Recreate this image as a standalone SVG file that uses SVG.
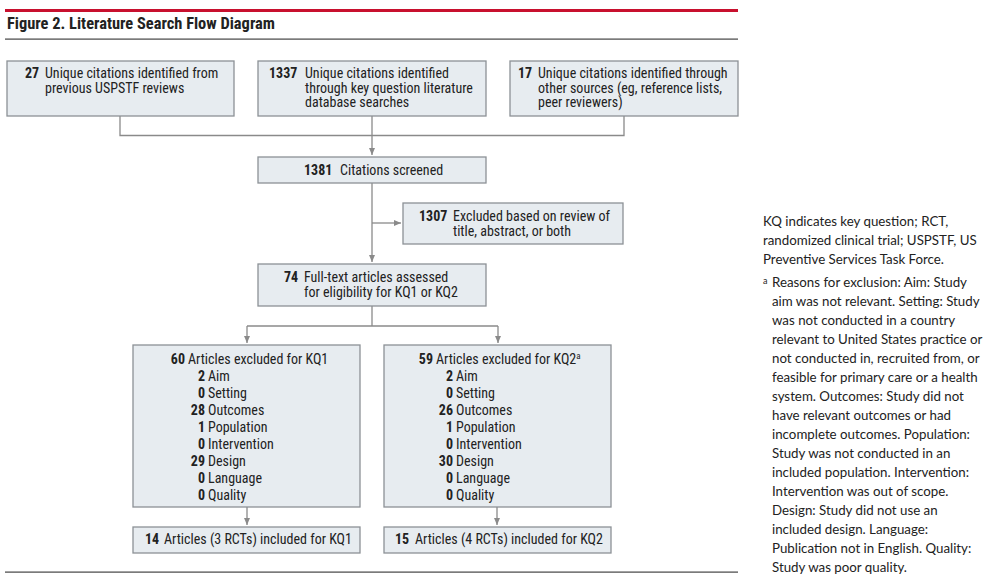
<svg xmlns="http://www.w3.org/2000/svg" width="1003" height="582" viewBox="0 0 1003 582">
<style>
.box{fill:#e7ecf0;stroke:#8c9196;stroke-width:1.3}
.t{font-family:"Liberation Sans Narrow","Roboto Condensed","Liberation Sans",sans-serif;font-size:14px;fill:#222}
.b{font-weight:bold}
.e{text-anchor:end}
.c{fill:none;stroke:#8a8a8a;stroke-width:1.3}
.n{font-family:Lato,"Open Sans",sans-serif;font-size:13.3px;fill:#222}
</style>
<defs>
<marker id="ah" markerWidth="8" markerHeight="8" refX="7" refY="4" orient="auto" markerUnits="userSpaceOnUse">
<path d="M0,1 L7,4 L0,7 z" fill="#8a8a8a"/>
</marker>
</defs>
<rect x="5" y="9" width="733" height="3" fill="#c8102e"/>
<text class="t" x="7" y="29" style="font-size:16px;font-weight:bold" textLength="268" lengthAdjust="spacingAndGlyphs">Figure 2. Literature Search Flow Diagram</text>
<rect x="5" y="38.5" width="733" height="1.2" fill="#444"/>
<rect x="5" y="571.5" width="733" height="1.2" fill="#444"/>

<g id="connectors">
<path class="c" d="M120,116 V135.5 H624 V116"/>
<path class="c" d="M372,116 V155" marker-end="url(#ah)"/>
<path class="c" d="M372,183 V262" marker-end="url(#ah)"/>
<path class="c" d="M372,223 H401" marker-end="url(#ah)"/>
<path class="c" d="M372,306 V326"/>
<path class="c" d="M247,326 H498"/>
<path class="c" d="M247,326 V343" marker-end="url(#ah)"/>
<path class="c" d="M498,326 V343" marker-end="url(#ah)"/>
<path class="c" d="M247,507 V525" marker-end="url(#ah)"/>
<path class="c" d="M497,507 V525" marker-end="url(#ah)"/>
</g>

<g id="n27">
<rect class="box" x="7" y="61" width="227" height="55"/>
<text class="t b" x="25" y="78">27</text>
<text class="t" x="45" y="78">Unique citations identified from</text>
<text class="t" x="45" y="93">previous USPSTF reviews</text>
</g>
<g id="n1337">
<rect class="box" x="258" y="61" width="228" height="55"/>
<text class="t b" x="269" y="78">1337</text>
<text class="t" x="305" y="78">Unique citations identified</text>
<text class="t" x="305" y="93">through key question literature</text>
<text class="t" x="305" y="107">database searches</text>
</g>
<g id="n17">
<rect class="box" x="510" y="61" width="228" height="55"/>
<text class="t b" x="518" y="78">17</text>
<text class="t" x="538" y="78">Unique citations identified through</text>
<text class="t" x="538" y="93">other sources (eg, reference lists,</text>
<text class="t" x="538" y="107">peer reviewers)</text>
</g>
<g id="n1381">
<rect class="box" x="258" y="157" width="228" height="26"/>
<text class="t b" x="304" y="175">1381</text>
<text class="t" x="340" y="175">Citations screened</text>
</g>
<g id="n1307">
<rect class="box" x="403" y="203" width="220" height="41"/>
<text class="t b" x="419" y="221">1307</text>
<text class="t" x="453" y="221">Excluded based on review of</text>
<text class="t" x="453" y="236">title, abstract, or both</text>
</g>
<g id="n74">
<rect class="box" x="258" y="264" width="228" height="42"/>
<text class="t b" x="284" y="282">74</text>
<text class="t" x="304" y="282">Full-text articles assessed</text>
<text class="t" x="304" y="297">for eligibility for KQ1 or KQ2</text>
</g>
<g id="kq1">
<rect class="box" x="133" y="345" width="227" height="162"/>
<text class="t b e" x="185" y="364">60</text><text class="t" x="188" y="364">Articles excluded for KQ1</text>
<text class="t b e" x="205" y="381">2</text><text class="t" x="208" y="381">Aim</text>
<text class="t b e" x="205" y="398">0</text><text class="t" x="208" y="398">Setting</text>
<text class="t b e" x="205" y="415">28</text><text class="t" x="208" y="415">Outcomes</text>
<text class="t b e" x="205" y="432">1</text><text class="t" x="208" y="432">Population</text>
<text class="t b e" x="205" y="449">0</text><text class="t" x="208" y="449">Intervention</text>
<text class="t b e" x="205" y="466">29</text><text class="t" x="208" y="466">Design</text>
<text class="t b e" x="205" y="483">0</text><text class="t" x="208" y="483">Language</text>
<text class="t b e" x="205" y="500">0</text><text class="t" x="208" y="500">Quality</text>
</g>
<g id="kq2">
<rect class="box" x="384" y="345" width="227" height="162"/>
<text class="t b e" x="433" y="364">59</text><text class="t" x="436" y="364">Articles excluded for KQ2<tspan dy="-5" style="font-size:9px">a</tspan></text>
<text class="t b e" x="453" y="381">2</text><text class="t" x="456" y="381">Aim</text>
<text class="t b e" x="453" y="398">0</text><text class="t" x="456" y="398">Setting</text>
<text class="t b e" x="453" y="415">26</text><text class="t" x="456" y="415">Outcomes</text>
<text class="t b e" x="453" y="432">1</text><text class="t" x="456" y="432">Population</text>
<text class="t b e" x="453" y="449">0</text><text class="t" x="456" y="449">Intervention</text>
<text class="t b e" x="453" y="466">30</text><text class="t" x="456" y="466">Design</text>
<text class="t b e" x="453" y="483">0</text><text class="t" x="456" y="483">Language</text>
<text class="t b e" x="453" y="500">0</text><text class="t" x="456" y="500">Quality</text>
</g>
<g id="inc1">
<rect class="box" x="133" y="527" width="227" height="26"/>
<text class="t b" x="145" y="544">14</text>
<text class="t" x="164" y="544">Articles (3 RCTs) included for KQ1</text>
</g>
<g id="inc2">
<rect class="box" x="384" y="527" width="227" height="26"/>
<text class="t b" x="395" y="544">15</text>
<text class="t" x="415" y="544">Articles (4 RCTs) included for KQ2</text>
</g>

<g id="notes">
<text class="n" x="763" y="226">KQ indicates key question; RCT,</text>
<text class="n" x="763" y="245">randomized clinical trial; USPSTF, US</text>
<text class="n" x="763" y="264">Preventive Services Task Force.</text>
<text class="n" x="763" y="284" style="font-size:9px">a</text>
<text class="n" x="772" y="287">Reasons for exclusion: Aim: Study</text>
<text class="n" x="772" y="306">aim was not relevant. Setting: Study</text>
<text class="n" x="772" y="325">was not conducted in a country</text>
<text class="n" x="772" y="344">relevant to United States practice or</text>
<text class="n" x="772" y="363">not conducted in, recruited from, or</text>
<text class="n" x="772" y="382">feasible for primary care or a health</text>
<text class="n" x="772" y="401">system. Outcomes: Study did not</text>
<text class="n" x="772" y="420">have relevant outcomes or had</text>
<text class="n" x="772" y="439">incomplete outcomes. Population:</text>
<text class="n" x="772" y="458">Study was not conducted in an</text>
<text class="n" x="772" y="477">included population. Intervention:</text>
<text class="n" x="772" y="496">Intervention was out of scope.</text>
<text class="n" x="772" y="515">Design: Study did not use an</text>
<text class="n" x="772" y="534">included design. Language:</text>
<text class="n" x="772" y="553">Publication not in English. Quality:</text>
<text class="n" x="772" y="572">Study was poor quality.</text>
</g>
</svg>
